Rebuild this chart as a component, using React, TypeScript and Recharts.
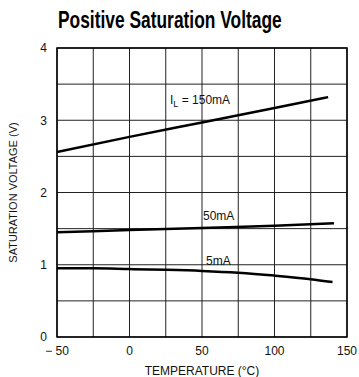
import React from 'react';
import {
  LineChart,
  Line,
  XAxis,
  YAxis,
  CartesianGrid,
  ReferenceArea,
} from 'recharts';

const xTicks = [-50, -25, 0, 25, 50, 75, 100, 125, 150];
const yTicks = [0, 0.5, 1, 1.5, 2, 2.5, 3, 3.5, 4];

const temps150 = [-50, 0, 50, 100, 137];
const volts150 = [2.56, 2.77, 2.97, 3.17, 3.32];

const temps50 = [-50, 0, 50, 100, 141];
const volts50 = [1.45, 1.48, 1.51, 1.54, 1.575];

const temps5 = [-50, -25, 0, 25, 50, 75, 100, 125, 140];
const volts5 = [0.95, 0.95, 0.94, 0.93, 0.915, 0.89, 0.85, 0.8, 0.76];

const toRows = (t: number[], v: number[]) => t.map((x, i) => ({ t: x, v: v[i] }));

const FONT = "'Liberation Sans', Arial, sans-serif";

const xFmt = (v: number) => (v % 50 !== 0 ? '' : v < 0 ? `\u2212 ${Math.abs(v)}` : String(v));
const yFmt = (v: number) => (Number.isInteger(v) ? String(v) : '');

const tag: React.CSSProperties = {
  position: 'absolute',
  fontFamily: FONT,
  fontSize: 12,
  color: '#111',
  lineHeight: 1,
  whiteSpace: 'nowrap',
};

export default function App() {
  return (
    <div style={{ position: 'absolute', left: 0, top: 0, width: 359, height: 377, background: '#fff' }}>
      <div
        style={{
          position: 'absolute',
          left: 58,
          top: 8,
          fontFamily: FONT,
          fontWeight: 'bold',
          fontSize: 24,
          color: '#000',
          lineHeight: 1,
          whiteSpace: 'nowrap',
          transform: 'scaleX(0.724)',
          transformOrigin: 'left top',
        }}
      >
        Positive Saturation Voltage
      </div>
      <LineChart width={359} height={377} margin={{ top: 48, right: 12, left: 0, bottom: 0 }}>
        <CartesianGrid stroke="#222" strokeWidth={1} />
        <XAxis
          type="number"
          dataKey="t"
          domain={[-50, 150]}
          ticks={xTicks}
          tickFormatter={xFmt}
          height={40}
          tickLine={false}
          tickSize={0}
          tickMargin={9}
          axisLine={false}
          interval={0}
          tick={{ fontSize: 12, fill: '#111', fontFamily: FONT }}
          label={{ value: 'TEMPERATURE (\u00b0C)', position: 'insideBottom', offset: 2, fontSize: 12, fill: '#111', fontFamily: FONT }}
        />
        <YAxis
          type="number"
          domain={[0, 4]}
          ticks={yTicks}
          tickFormatter={yFmt}
          width={57}
          tickLine={false}
          tickSize={0}
          tickMargin={10}
          axisLine={false}
          interval={0}
          tick={{ fontSize: 12, fill: '#111', fontFamily: FONT }}
          label={{ value: 'SATURATION VOLTAGE (V)', angle: -90, position: 'insideLeft', offset: 13, fontSize: 11, fill: '#111', fontFamily: FONT, style: { textAnchor: 'middle' } }}
        />
        <ReferenceArea x1={-50} x2={150} y1={0} y2={4} fill="none" stroke="#000" strokeWidth={1.5} />
        <Line data={toRows(temps150, volts150)} dataKey="v" type="monotone" stroke="#000" strokeWidth={2.5} dot={false} isAnimationActive={false} />
        <Line data={toRows(temps50, volts50)} dataKey="v" type="monotone" stroke="#000" strokeWidth={2.5} dot={false} isAnimationActive={false} />
        <Line data={toRows(temps5, volts5)} dataKey="v" type="monotone" stroke="#000" strokeWidth={2.5} dot={false} isAnimationActive={false} />
      </LineChart>
      <div style={{ ...tag, left: 170, top: 94 }}>
        I<sub style={{ fontSize: 9, verticalAlign: -3 }}>L</sub> = 150mA
      </div>
      <div style={{ ...tag, left: 203, top: 210 }}>50mA</div>
      <div style={{ ...tag, left: 206, top: 255 }}>5mA</div>
    </div>
  );
}
